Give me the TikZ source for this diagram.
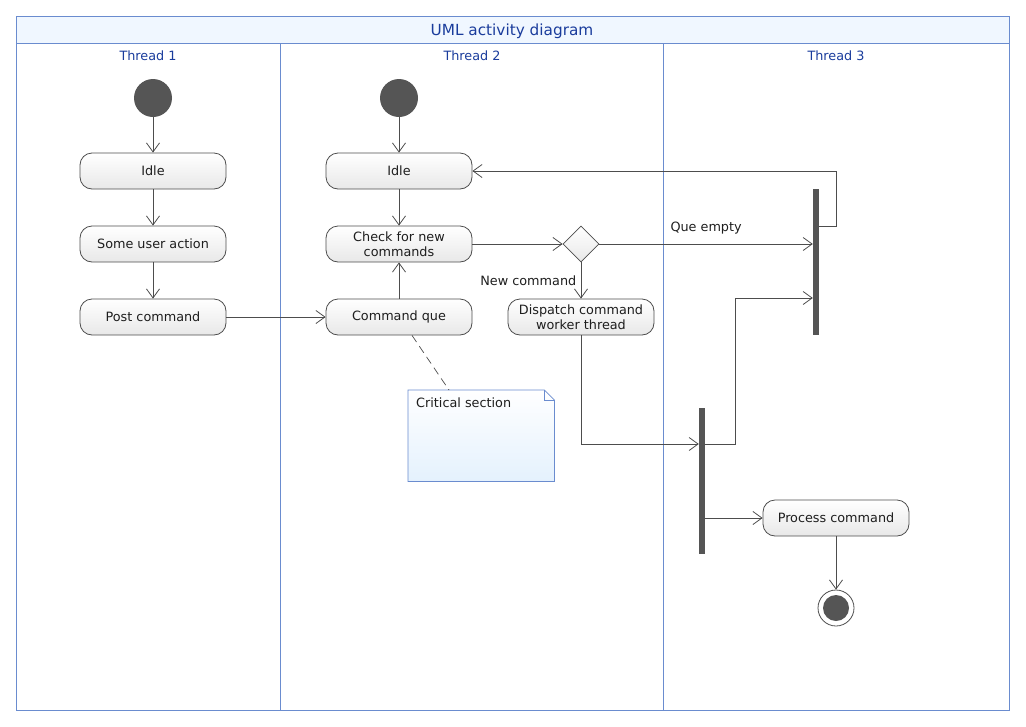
\documentclass[tikz,border=0pt]{standalone}
\usepackage{fontspec}
\setmainfont{DejaVu Sans}
\usetikzlibrary{arrows.meta,shapes.geometric}
\definecolor{framec}{HTML}{6A8CCF}
\definecolor{titlefill}{HTML}{F0F7FF}
\definecolor{titletext}{HTML}{1A3C9C}
\definecolor{lineg}{HTML}{4D4D4D}
\definecolor{darkfill}{HTML}{555555}
\definecolor{nodebot}{HTML}{E8E8E8}
\definecolor{notebot}{HTML}{E4F1FD}
\definecolor{txt}{HTML}{1E1E1E}
\tikzset{
  actbox/.style={draw=lineg, line width=0.8pt, rounded corners=12pt, minimum width=146pt, minimum height=36pt,
    top color=white, bottom color=nodebot, align=center, inner sep=0pt, text=txt, font=\fontsize{12.8}{15}\selectfont},
  startnode/.style={circle, fill=darkfill, minimum size=38pt, inner sep=0pt},
  barnode/.style={rectangle, fill=darkfill, minimum width=6pt, minimum height=146pt, inner sep=0pt},
  decnode/.style={diamond, draw=lineg, line width=0.8pt, minimum width=36pt, minimum height=36pt, aspect=1, inner sep=0pt,
    top color=white, bottom color=nodebot},
  arr/.style={draw=lineg, line width=0.8pt, -{Straight Barb[length=9pt,width=13pt,line width=0.8pt]}},
  lanelabel/.style={text=titletext, font=\fontsize{12.8}{15}\selectfont},
  lbl/.style={text=txt, font=\fontsize{12.8}{15}\selectfont},
}
\begin{document}
\begin{tikzpicture}[x=1pt,y=-1pt]
\useasboundingbox (0,0) rectangle (1026,726);
% frame
\draw[framec, fill=titlefill, line width=0.8pt] (16,16) rectangle (1009,43);
\draw[framec, line width=0.8pt] (16,43) rectangle (1009,710);
\draw[framec, line width=0.8pt] (280,43) -- (280,710);
\draw[framec, line width=0.8pt] (663,43) -- (663,710);
\node[text=titletext, font=\fontsize{15.3}{18}\selectfont] (title) at (512,31) {UML activity diagram};
\node[lanelabel] (lane1) at (148,56) {Thread 1};
\node[lanelabel] (lane2) at (472,56) {Thread 2};
\node[lanelabel] (lane3) at (836,56) {Thread 3};
% thread 1
\node[startnode] (s1) at (153,98) {};
\node[actbox] (idle1) at (153,171) {\raisebox{-1pt}{Idle}};
\node[actbox] (user) at (153,244) {\raisebox{-1pt}{Some user action}};
\node[actbox] (post) at (153,317) {\raisebox{-1pt}{Post command}};
% thread 2
\node[startnode] (s2) at (399,98) {};
\node[actbox] (idle2) at (399,171) {\raisebox{-1pt}{Idle}};
\node[actbox] (check) at (399,244) {Check for new\\commands};
\node[actbox] (cq) at (399,317) {\raisebox{-1pt}{Command que}};
\node[decnode] (dec) at (581,244) {};
\node[actbox] (disp) at (581,317) {Dispatch command\\worker thread};
% note
\node[minimum width=146pt, minimum height=91pt, inner sep=0pt, anchor=north west] (note) at (408,390) {};
\draw[framec, line width=0.8pt, top color=white, bottom color=notebot]
  (note.north west) -- ([xshift=-10pt]note.north east) -- ([yshift=-10pt]note.north east)
  -- (note.south east) -- (note.south west) -- cycle;
\draw[framec, line width=0.8pt] ([xshift=-10pt]note.north east) -- ([xshift=-10pt,yshift=-10pt]note.north east) -- ([yshift=-10pt]note.north east);
\node[lbl, anchor=west, inner sep=0pt] (notetext) at (416,403) {Critical section};
\draw[lineg, line width=0.7pt, dash pattern=on 8pt off 5pt] ([xshift=13pt]cq.south) -- ([xshift=41pt]note.north west);
% thread 3
\node[barnode] (bar1) at (816,262) {};
\node[barnode] (bar2) at (702,481) {};
\node[actbox] (proc) at (836,518) {\raisebox{-1pt}{Process command}};
\node[circle, draw=lineg, line width=0.8pt, fill=white, minimum size=36pt, inner sep=0pt] (endn) at (836,608) {};
\fill[darkfill] (endn.center) circle (13pt);
% connectors
\draw[arr] (s1) -- (idle1);
\draw[arr] (idle1) -- (user);
\draw[arr] (user) -- (post);
\draw[arr] (post) -- (cq);
\draw[arr] (s2) -- (idle2);
\draw[arr] (idle2) -- (check);
\draw[arr] (cq) -- (check);
\draw[arr] (check) -- (dec.west);
\draw[arr] (dec.east) -- (dec.east -| bar1.west) node[lbl, midway, above=6pt] (qe) {Que empty};
\draw[arr] (dec.south) -- (disp.north) node[lbl, midway, left=1pt] (nc) {New command};
\draw[arr] ([yshift=36pt]bar1.east) -- ++(17,0) |- (idle2.east);
\draw[arr] (disp.south) |- ([yshift=37pt]bar2.west);
\draw[arr] ([yshift=37pt]bar2.east) -- ++(30,0) |- ([yshift=-36pt]bar1.west);
\draw[arr] (bar2.east |- proc.west) -- (proc.west);
\draw[arr] (proc) -- (endn);
\end{tikzpicture}
\end{document}
